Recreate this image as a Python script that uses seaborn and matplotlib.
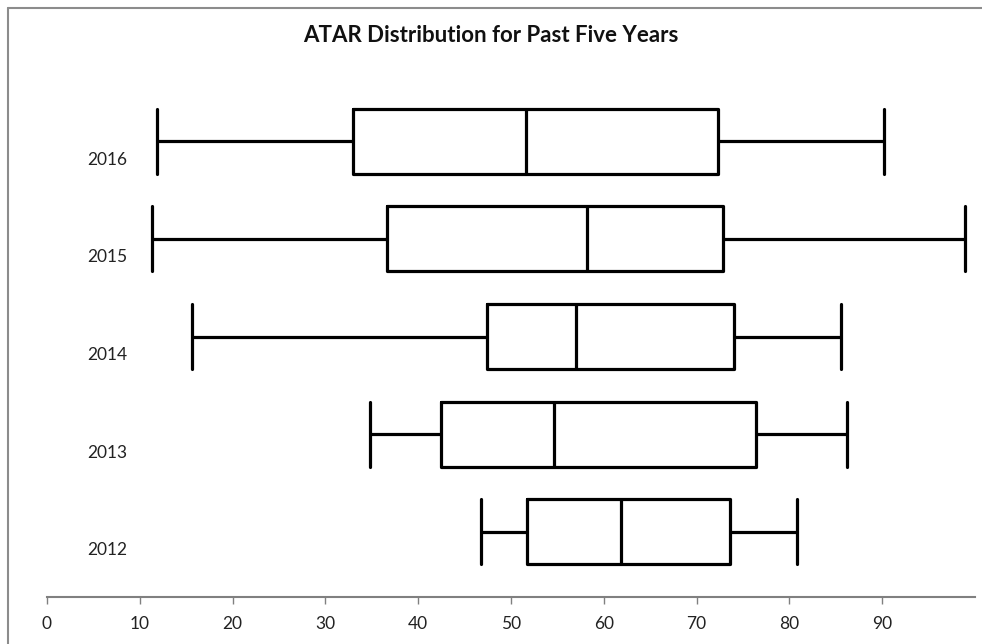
import matplotlib
matplotlib.use('Agg')
import matplotlib.pyplot as plt
import matplotlib.transforms as mtransforms
from matplotlib.lines import Line2D
import seaborn as sns
import pandas as pd

# five number summary per year
years = ['2016', '2015', '2014', '2013', '2012']
mins = [11.9, 11.3, 15.6, 34.8, 46.8]
q1s = [33.0, 36.6, 47.4, 42.5, 51.7]
medians = [51.6, 58.2, 57.0, 54.6, 61.8]
q3s = [72.3, 72.8, 74.0, 76.4, 73.6]
maxs = [90.2, 98.9, 85.6, 86.2, 80.8]

# 5 points per year -> quartiles of these points equal the summary above
rows = []
for i, y in enumerate(years):
    for v in [mins[i], q1s[i], medians[i], q3s[i], maxs[i]]:
        rows.append({'year': y, 'ATAR': v})
df = pd.DataFrame(rows)

sns.set_theme(style='white')
plt.rcParams['font.family'] = ['Lato', 'DejaVu Sans']

fig = plt.figure(figsize=(9.82, 6.44), dpi=100)
ax = fig.add_axes([47/982, 1-597/644, (975-47)/982, (597-60)/644])

sns.boxplot(data=df, x='ATAR', y='year', order=years, orient='h',
            whis=(0, 100), width=0.665, fill=False, color='black',
            linecolor='black', linewidth=2.3, capwidths=0.665, ax=ax)

ax.set_xlim(0, 100)
ax.set_ylim(4 + 65/97.7, -(141-60)/97.7)
ax.set_xticks(range(0, 100, 10))
ax.set_xlabel('')
ax.set_ylabel('')

for s in ['top', 'right', 'left']:
    ax.spines[s].set_visible(False)
ax.spines['bottom'].set_color('#808080')
ax.spines['bottom'].set_linewidth(1.5)

ax.tick_params(axis='x', direction='out', length=5, width=1, color='#808080',
               bottom=True, pad=9, labelsize=12.5, labelcolor='#222222')
ax.tick_params(axis='y', length=0, pad=0, labelsize=12.5, labelcolor='#222222')

# year labels sit inside the plot area and a bit below each box
offset = mtransforms.ScaledTranslation(0.80, -0.17, fig.dpi_scale_trans)
for lab in ax.get_yticklabels():
    lab.set_transform(lab.get_transform() + offset)

fig.text(0.5, 1-35/644, 'ATAR Distribution for Past Five Years',
         ha='center', va='center', fontsize=16, fontweight='bold', color='#111111')

# chart area border (only top and left edges are inside the image)
fig.add_artist(Line2D([7.5/982, 7.5/982], [0, 1-8/644], color='#8c8c8c', lw=1.5))
fig.add_artist(Line2D([7.5/982, 1], [1-8/644, 1-8/644], color='#8c8c8c', lw=1.5))

fig.savefig('out.png', dpi=100)
